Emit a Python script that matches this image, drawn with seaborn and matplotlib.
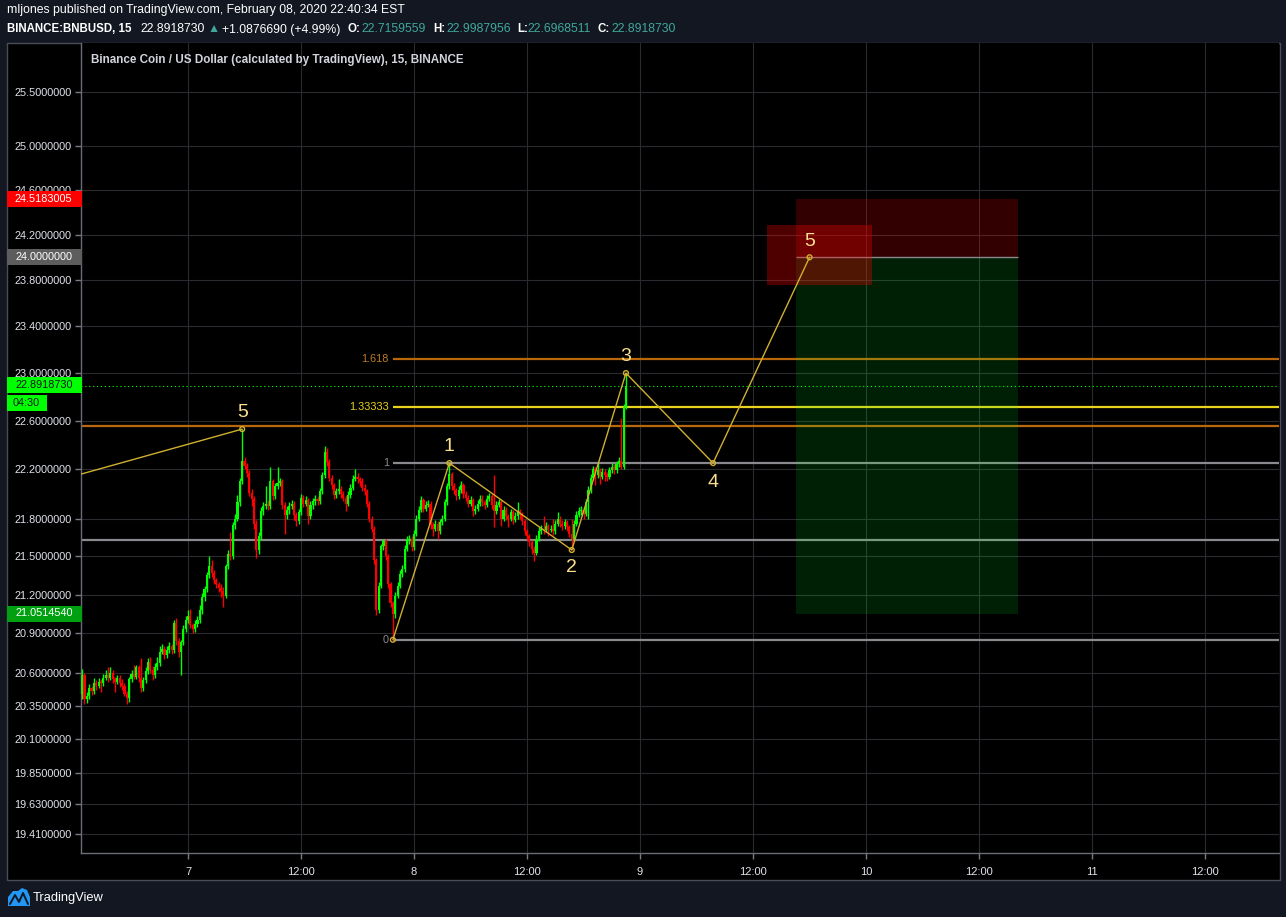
import numpy as np
import pandas as pd
import matplotlib
matplotlib.use("Agg")
import matplotlib.pyplot as plt
import matplotlib.dates as mdates
from matplotlib.patches import Rectangle, Polygon
from matplotlib.ticker import FixedLocator, NullLocator
import seaborn as sns

# ---------------- data ----------------
first_open = 20.44
close = [
    20.58, 20.40, 20.42, 20.48, 20.46, 20.52, 20.50, 20.53, 20.52, 20.56,
    20.58, 20.56, 20.60, 20.55, 20.53, 20.56, 20.52, 20.50, 20.44, 20.41,
    20.55, 20.59, 20.57, 20.64, 20.56, 20.48, 20.54, 20.61, 20.68, 20.62,
    20.58, 20.64, 20.67, 20.76, 20.78, 20.73, 20.77, 20.80, 20.77, 20.98,
    20.84, 20.76, 20.83, 20.93, 21.00, 21.03, 20.96, 20.93, 20.97, 21.00,
    21.08, 21.18, 21.24, 21.35, 21.42, 21.37, 21.31, 21.28, 21.25, 21.23,
    21.19, 21.42, 21.52, 21.50, 21.75, 21.80, 21.93, 22.10, 22.27, 22.23,
    22.17, 22.01, 21.96, 21.76, 21.55, 21.66, 21.86, 21.90, 21.92, 21.90,
    22.10, 21.98, 22.06, 22.09, 22.10, 21.91, 21.83, 21.87, 21.90, 21.92,
    21.83, 21.78, 21.85, 21.97, 21.92, 21.95, 21.82, 21.91, 21.94, 21.96,
    21.94, 22.02, 22.15, 22.34, 22.26, 22.13, 22.07, 21.99, 22.02, 22.04,
    22.00, 21.97, 21.92, 21.99, 22.05, 22.12, 22.14, 22.12, 22.10, 22.05,
    22.02, 21.92, 21.80, 21.72, 21.47, 21.08, 21.27, 21.58, 21.62, 21.50,
    21.28, 21.13, 21.05, 21.19, 21.27, 21.36, 21.40, 21.56, 21.63, 21.64,
    21.57, 21.68, 21.80, 21.87, 21.95, 21.88, 21.91, 21.92, 21.75, 21.72,
    21.76, 21.70, 21.77, 21.80, 21.93, 22.06, 22.16, 22.06, 22.03, 21.98,
    22.03, 22.07, 22.00, 21.97, 21.92, 21.95, 21.86, 21.88, 21.92, 21.96,
    21.93, 21.91, 21.96, 21.98, 21.91, 21.86, 21.91, 21.93, 21.80, 21.87,
    21.82, 21.80, 21.85, 21.79, 21.82, 21.86, 21.83, 21.78, 21.70, 21.66,
    21.61, 21.56, 21.53, 21.64, 21.70, 21.72, 21.71, 21.74, 21.71, 21.72,
    21.70, 21.76, 21.80, 21.76, 21.74, 21.77, 21.73, 21.68, 21.64, 21.76,
    21.83, 21.86, 21.87, 21.84, 21.93, 22.03, 22.13, 22.20, 22.15, 22.19,
    22.14, 22.18, 22.15, 22.14, 22.19, 22.22, 22.19, 22.24, 22.27, 22.22,
    22.7159559, 22.8918730,
]
high = [
    20.63, 20.60, 20.45, 20.51, 20.50, 20.56, 20.54, 20.56, 20.55, 20.59,
    20.62, 20.64, 20.64, 20.62, 20.57, 20.58, 20.58, 20.55, 20.52, 20.46,
    20.57, 20.62, 20.66, 20.66, 20.66, 20.71, 20.57, 20.64, 20.71, 20.72,
    20.65, 20.67, 20.72, 20.80, 20.82, 20.80, 20.80, 20.83, 20.82, 21.00,
    21.02, 20.86, 20.85, 20.96, 21.03, 21.08, 21.09, 20.98, 21.00, 21.03,
    21.12, 21.21, 21.27, 21.38, 21.50, 21.47, 21.39, 21.33, 21.30, 21.28,
    21.26, 21.44, 21.55, 21.69, 21.77, 21.84, 21.99, 22.13, 22.53, 22.30,
    22.25, 22.19, 22.04, 21.98, 21.79, 21.69, 21.89, 21.93, 22.06, 21.95,
    22.22, 22.12, 22.09, 22.22, 22.13, 22.12, 21.93, 21.90, 21.93, 21.95,
    21.94, 21.85, 21.88, 22.00, 21.99, 21.98, 21.97, 21.94, 21.97, 21.99,
    21.98, 22.05, 22.18, 22.39, 22.37, 22.28, 22.15, 22.09, 22.05, 22.12,
    22.06, 22.02, 21.99, 22.02, 22.08, 22.15, 22.20, 22.17, 22.14, 22.13,
    22.08, 22.04, 21.94, 21.82, 21.74, 21.49, 21.30, 21.60, 21.64, 21.64,
    21.52, 21.30, 21.15, 21.22, 21.30, 21.39, 21.43, 21.59, 21.66, 21.67,
    21.66, 21.71, 21.83, 21.90, 21.98, 21.97, 21.94, 21.95, 21.94, 21.77,
    21.79, 21.78, 21.80, 21.83, 21.96, 22.09, 22.25, 22.18, 22.09, 22.05,
    22.06, 22.10, 22.09, 22.02, 21.99, 21.98, 21.97, 21.91, 21.95, 21.99,
    21.99, 21.95, 21.99, 22.01, 22.00, 22.15, 21.94, 21.96, 21.95, 21.90,
    21.89, 21.84, 21.88, 21.87, 21.85, 21.93, 21.88, 21.85, 21.80, 21.72,
    21.68, 21.63, 21.58, 21.67, 21.73, 21.75, 21.82, 21.77, 21.76, 21.75,
    21.80, 21.79, 21.85, 21.82, 21.79, 21.80, 21.79, 21.75, 21.80, 21.79,
    21.86, 21.89, 21.90, 21.89, 21.96, 22.06, 22.16, 22.23, 22.22, 22.25,
    22.21, 22.21, 22.20, 22.18, 22.22, 22.25, 22.24, 22.27, 22.30, 22.62,
    22.74, 22.9987956,
]
low = [
    20.40, 20.36, 20.37, 20.40, 20.43, 20.44, 20.47, 20.48, 20.45, 20.50,
    20.54, 20.53, 20.54, 20.52, 20.45, 20.51, 20.49, 20.47, 20.42, 20.36,
    20.38, 20.53, 20.55, 20.55, 20.53, 20.45, 20.46, 20.52, 20.59, 20.60,
    20.54, 20.56, 20.62, 20.65, 20.74, 20.70, 20.71, 20.75, 20.74, 20.75,
    20.81, 20.72, 20.58, 20.81, 20.91, 20.98, 20.94, 20.90, 20.91, 20.95,
    20.98, 21.05, 21.15, 21.22, 21.33, 21.34, 21.28, 21.25, 21.22, 21.18,
    21.10, 21.17, 21.40, 21.47, 21.48, 21.72, 21.78, 21.90, 22.08, 22.20,
    22.14, 21.98, 21.90, 21.72, 21.49, 21.52, 21.63, 21.83, 21.88, 21.87,
    21.88, 21.95, 21.96, 22.04, 22.06, 21.88, 21.68, 21.80, 21.84, 21.88,
    21.79, 21.74, 21.76, 21.83, 21.89, 21.90, 21.76, 21.80, 21.88, 21.91,
    21.91, 21.92, 22.00, 22.13, 22.23, 22.10, 22.04, 21.96, 21.97, 22.00,
    21.97, 21.94, 21.86, 21.90, 21.97, 22.03, 22.10, 22.09, 22.06, 22.02,
    21.99, 21.89, 21.77, 21.69, 21.44, 21.04, 21.06, 21.25, 21.55, 21.47,
    21.25, 21.10, 20.85, 21.02, 21.17, 21.25, 21.34, 21.38, 21.54, 21.60,
    21.54, 21.55, 21.66, 21.78, 21.85, 21.85, 21.86, 21.89, 21.72, 21.66,
    21.70, 21.64, 21.68, 21.75, 21.78, 21.91, 22.04, 22.03, 22.00, 21.95,
    21.96, 22.01, 21.97, 21.94, 21.89, 21.90, 21.82, 21.84, 21.86, 21.90,
    21.90, 21.88, 21.89, 21.94, 21.88, 21.73, 21.84, 21.89, 21.74, 21.78,
    21.79, 21.73, 21.78, 21.76, 21.77, 21.80, 21.80, 21.75, 21.67, 21.63,
    21.58, 21.52, 21.46, 21.51, 21.62, 21.68, 21.68, 21.69, 21.66, 21.69,
    21.67, 21.68, 21.74, 21.73, 21.71, 21.72, 21.70, 21.65, 21.55, 21.62,
    21.74, 21.81, 21.83, 21.80, 21.82, 21.80, 22.01, 22.11, 22.07, 22.13,
    22.08, 22.12, 22.10, 22.10, 22.12, 22.17, 22.16, 22.17, 22.22, 22.20,
    22.20, 22.6968511,
]
first_candle = "2020-02-06 12:45"

# Elliott wave pivots
wave_labels = ["1", "2", "3", "4", "5"]
wave_times = ["2020-02-07 21:45", "2020-02-08 03:45", "2020-02-08 16:45",
              "2020-02-08 22:30", "2020-02-09 07:45", "2020-02-09 18:00"]
wave_prices = [20.85, 22.25, 21.55, 22.999, 22.25, 24.00]
prev_wave_times = ["2020-02-06 12:38", "2020-02-07 05:45"]
prev_wave_prices = [22.16, 22.53]

# Fibonacci levels
fib_start = "2020-02-07 21:45"
fib_levels = ["0", "1", "1.33333", "1.618"]
fib_prices = [20.85, 22.25, 22.717, 23.115]
full_gray_price = 21.63
full_orange_price = 22.555

# Position tool
pos_start, pos_end = "2020-02-09 16:34", "2020-02-10 16:09"
entry_price, stop_price, target_price = 24.0, 24.5183005, 21.0514540
rect_start, rect_end = "2020-02-09 13:29", "2020-02-10 00:39"
rect_low, rect_high = 23.76, 24.29
last_price = 22.8918730

y_ticks = [25.5, 25.0, 24.6, 24.2, 23.8, 23.4, 23.0, 22.6, 22.2, 21.8, 21.5,
           21.2, 20.9, 20.6, 20.35, 20.1, 19.85, 19.63, 19.41]
x_tick_times = ["2020-02-07 00:00", "2020-02-07 12:00", "2020-02-08 00:00",
                "2020-02-08 12:00", "2020-02-09 00:00", "2020-02-09 12:00",
                "2020-02-10 00:00", "2020-02-10 12:00", "2020-02-11 00:00",
                "2020-02-11 12:00"]
x_tick_labels = ["7", "12:00", "8", "12:00", "9", "12:00", "10", "12:00", "11", "12:00"]

# ---------------- style ----------------
W, H = 1286, 917
sns.set_theme(style="dark")
plt.rcParams["font.family"] = ["Liberation Sans", "DejaVu Sans"]

BG = "#131722"
TXT = "#d1d4dc"
GOLD = "#d0b030"
LBL = "#fbe08e"

def fx(x):
    return x / W

def fy(y):
    return 1 - y / H

def tn(s):
    return mdates.date2num(pd.Timestamp(s).to_pydatetime())

fig = plt.figure(figsize=(W / 100, H / 100), dpi=100, facecolor=BG)
fig.patches.append(Rectangle((fx(6.5), fy(880)), (1280 - 6.5) / W, (880 - 42.5) / H,
                             transform=fig.transFigure, facecolor="black",
                             edgecolor="#4a4d57", lw=1, zorder=-5))

ax = fig.add_axes([fx(81), fy(853), (1279 - 81) / W, (853 - 42.5) / H])
ax.set_facecolor("black")

x_left, x_right = tn("2020-02-06 12:38"), tn("2020-02-11 19:51")

# candles
c = np.array(close)
o = np.concatenate([[first_open], c[:-1]])
hi = np.array(high)
lo = np.array(low)
times = pd.date_range(first_candle, periods=len(c), freq="15min")
xs = mdates.date2num(times.to_pydatetime())
col = np.where(c >= o, "#00ff00", "#ff0000")
ax.vlines(xs, lo, hi, colors=col, lw=1.0, zorder=3)
ax.bar(xs, np.maximum(np.abs(c - o), 0.008), bottom=np.minimum(o, c),
       width=0.9 / 96, color=col, linewidth=0, zorder=3)

# full-width horizontal lines
ax.axhline(full_gray_price, color="#8a8a8e", lw=1.6, zorder=2)
ax.axhline(full_orange_price, color="#b9670b", lw=1.6, zorder=2)

# fib levels
fx0 = tn(fib_start)
fib_colors = ["#8a8a8e", "#8a8a8e", "#e8d21c", "#b9670b"]
fib_text_colors = ["#8a8a8e", "#8a8a8e", "#e8d21c", "#c27c1c"]
for lev, p, lc, tc in zip(fib_levels, fib_prices, fib_colors, fib_text_colors):
    ax.hlines(p, fx0, x_right, color=lc, lw=1.6, zorder=2)
    ax.annotate(lev, (fx0, p), xytext=(-4, 0), textcoords="offset pixels",
                ha="right", va="center", color=tc, fontsize=7.8, zorder=5)

# last price dotted line
ax.axhline(last_price, color="#00ff00", lw=0.8, ls=(0, (1, 2.5)), zorder=2)

# position tool
p0, p1 = tn(pos_start), tn(pos_end)
ax.fill_between([p0, p1], entry_price, stop_price, color=(1, 0, 0), alpha=0.2,
                linewidth=0, zorder=4)
ax.fill_between([p0, p1], target_price, entry_price, color=(0, 1, 0.16),
                alpha=0.13, linewidth=0, zorder=4)
ax.hlines(entry_price, p0, p1, color="#8a8a8e", lw=1, zorder=4)
ax.fill_between([tn(rect_start), tn(rect_end)], rect_low, rect_high,
                color=(1, 0, 0), alpha=0.31, linewidth=0, zorder=4)

# waves (seaborn)
wx = [tn(t) for t in wave_times]
sns.lineplot(x=wx, y=wave_prices, sort=False, estimator=None, color=GOLD,
             linewidth=1, ax=ax, zorder=6)
px = [tn(t) for t in prev_wave_times]
sns.lineplot(x=px, y=prev_wave_prices, sort=False, estimator=None, color=GOLD,
             linewidth=1, ax=ax, zorder=6)
sns.scatterplot(x=wx + [px[1]], y=wave_prices + [prev_wave_prices[1]], ax=ax,
                s=12, marker="o", facecolors="none", edgecolor=GOLD,
                linewidth=1, zorder=7)

offsets = [17, -18, 17, -19, 16]
for lab, t, p, off in zip(wave_labels, wx[1:], wave_prices[1:], offsets):
    ax.annotate(lab, (t, p), xytext=(0, off), textcoords="offset pixels",
                ha="center", va="center", color=LBL, fontsize=14, zorder=8)
ax.annotate("5", (px[1], prev_wave_prices[1]), xytext=(0, 17),
            textcoords="offset pixels", ha="center", va="center", color=LBL,
            fontsize=14, zorder=8)

# axes
ax.set_yscale("log")
ax.set_ylim(19.277, 25.973)
ax.set_xlim(x_left, x_right)
ax.yaxis.set_major_locator(FixedLocator(y_ticks))
ax.yaxis.set_minor_locator(NullLocator())
ax.set_yticks(y_ticks)
ax.set_yticklabels([f"{v:.7f}" for v in y_ticks])
ax.set_xticks([tn(t) for t in x_tick_times])
ax.set_xticklabels(x_tick_labels)
ax.xaxis.set_minor_locator(NullLocator())
ax.set_xlabel("")
ax.set_ylabel("")
ax.tick_params(axis="y", which="major", left=True, length=4, width=1,
               color="#787b86", pad=3, labelsize=7.8, labelcolor="#e0e3eb")
ax.tick_params(axis="x", which="major", bottom=True, length=4, width=1,
               color="#787b86", pad=6, labelsize=8, labelcolor="#e0e3eb")
ax.grid(True, color="#2a2b31", lw=0.8)
ax.set_axisbelow(True)
for s in ["top", "right"]:
    ax.spines[s].set_visible(False)
for s in ["left", "bottom"]:
    ax.spines[s].set_visible(True)
    ax.spines[s].set_color("#6a6d78")
    ax.spines[s].set_linewidth(1)

# chart title
fig.text(fx(91), fy(60), "Binance Coin / US Dollar (calculated by TradingView), 15, BINANCE",
         color=TXT, fontsize=8.4, fontweight="bold", ha="left", va="center")

# price labels on the axis
def price_label(y, text, bg, fg, x1=81.5):
    fig.patches.append(Rectangle((fx(6.7), fy(y + 8)), (x1 - 6.7) / W, 16 / H,
                                 transform=fig.transFigure, facecolor=bg,
                                 edgecolor="none", zorder=5))
    fig.text(fx(x1 - 9 if x1 > 60 else 13), fy(y), text, color=fg, fontsize=7.8,
             ha="right" if x1 > 60 else "left", va="center", zorder=6)

price_label(199, "24.5183005", "#ff0000", "white")
price_label(257, "24.0000000", "#5d5d5d", "white")
price_label(385, "22.8918730", "#00ff00", "#131722")
price_label(403, "04:30", "#00ff00", "#131722", x1=47)
price_label(613.5, "21.0514540", "#00a010", "white")

# header
fig.text(fx(7), fy(10.5), "mljones published on TradingView.com, February 08, 2020 22:40:34 EST",
         color="white", fontsize=8.8, ha="left", va="center")
TEAL = "#3fa89b"
pieces = [(7, "BINANCE:BNBUSD, 15", "white", "bold"),
          (140, "22.8918730", "white", "normal"),
          (208, "\u25b2", TEAL, "normal"),
          (222, "+1.0876690 (+4.99%)", "white", "normal"),
          (347, "O:", "white", "bold"),
          (361, "22.7159559", TEAL, "normal"),
          (433, "H:", "white", "bold"),
          (446, "22.9987956", TEAL, "normal"),
          (517, "L:", "white", "bold"),
          (527, "22.6968511", TEAL, "normal"),
          (598, "C:", "white", "bold"),
          (611, "22.8918730", TEAL, "normal")]
for x, s, cc, fw in pieces:
    fig.text(fx(x), fy(29.5), s, color=cc, fontsize=8.3 if fw == "bold" else 8.8,
             fontweight=fw, ha="left", va="center")

# footer logo
logo = Polygon([[fx(8), fy(906)], [fx(8), fy(897)], [fx(13), fy(891)],
                [fx(18), fy(891)], [fx(22), fy(888)], [fx(27), fy(890)],
                [fx(30), fy(897)], [fx(30), fy(906)]], closed=True,
               transform=fig.transFigure, facecolor="#2196f3", edgecolor="none")
fig.patches.append(logo)
fig.lines.append(plt.Line2D([fx(10), fx(15), fx(19), fx(23), fx(28)],
                            [fy(904), fy(895), fy(902), fy(893), fy(904)],
                            transform=fig.transFigure, color=BG, lw=1.4))
fig.text(fx(33), fy(898.5), "TradingView", color="white", fontsize=9.3,
         ha="left", va="center")

fig.savefig("out.png", dpi=100, facecolor=BG)
